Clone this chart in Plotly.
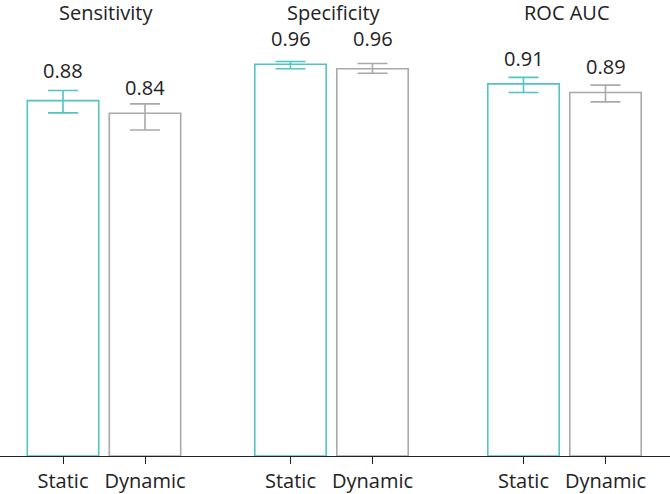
import plotly.graph_objects as go

metrics = ["Sensitivity", "Specificity", "ROC AUC"]
methods = ["Static", "Dynamic"]
values = {
    "Static": [0.871, 0.960, 0.912],
    "Dynamic": [0.840, 0.949, 0.891],
}
err_plus = {
    "Static": [0.025, 0.007, 0.016],
    "Dynamic": [0.023, 0.013, 0.018],
}
err_minus = {
    "Static": [0.030, 0.011, 0.021],
    "Dynamic": [0.041, 0.011, 0.023],
}
labels = {
    "Static": ["0.88", "0.96", "0.91"],
    "Dynamic": ["0.84", "0.96", "0.89"],
}
label_values = {
    "Static": [0.88, 0.96, 0.91],
    "Dynamic": [0.84, 0.96, 0.89],
}
colors = {"Static": "#52c4c4", "Dynamic": "#a9a9a9"}

W, H = 670, 494
FONT = "Open Sans"
FS = 20
TXT = "#222222"

# subplot domains in pixels and x-ranges
dom_px = [(0, 218), (218, 446), (446, 670)]
cat0_px = [63, 290.5, 523.5]
spacing = 82.0

fig = go.Figure()
for i, m in enumerate(metrics):
    xa = "x" if i == 0 else f"x{i+1}"
    ya = "y" if i == 0 else f"y{i+1}"
    for j, meth in enumerate(methods):
        fig.add_trace(go.Bar(
            x=[j], y=[values[meth][i]],
            width=0.871,
            xaxis=xa, yaxis=ya,
            marker=dict(color="rgba(255,255,255,0)",
                        line=dict(color=colors[meth], width=1.6)),
            error_y=dict(type="data", symmetric=False,
                         array=[err_plus[meth][i]],
                         arrayminus=[err_minus[meth][i]],
                         color=colors[meth], thickness=1.6, width=15),
            showlegend=False, hoverinfo="skip",
        ))
        fig.add_annotation(x=j, y=label_values[meth][i], xref=xa, yref=ya,
                           text=labels[meth][i], showarrow=False,
                           yshift=26, yanchor="middle", xanchor="center",
                           font=dict(family=FONT, size=FS, color=TXT))

top_px, base_px = 30, 456
plot_h = base_px - top_px
ymax = plot_h / 408.0

layout = dict(
    width=W, height=H,
    margin=dict(l=0, r=0, t=top_px, b=H - base_px, pad=0, autoexpand=False),
    paper_bgcolor="white", plot_bgcolor="white",
    barmode="overlay",
    font=dict(family=FONT, size=FS, color=TXT),
)
for i, m in enumerate(metrics):
    a, b = dom_px[i]
    r0 = (a - cat0_px[i]) / spacing
    r1 = (b - cat0_px[i]) / spacing
    key = "xaxis" if i == 0 else f"xaxis{i+1}"
    ykey = "yaxis" if i == 0 else f"yaxis{i+1}"
    layout[key] = dict(
        domain=[a / W, b / W], range=[r0, r1],
        tickvals=[0, 1], ticktext=methods,
        showline=True, linecolor="#222222", linewidth=1.2,
        ticks="outside", ticklen=7, tickcolor="#222222", tickwidth=1.2,
        showgrid=False, zeroline=False, fixedrange=True,
        tickfont=dict(family=FONT, size=FS, color=TXT),
        anchor="y" if i == 0 else f"y{i+1}",
    )
    layout[ykey] = dict(range=[0, ymax], visible=False, fixedrange=True,
                        anchor="x" if i == 0 else f"x{i+1}")
    cx = (cat0_px[i] + spacing / 2 + 2) / W
    fig.add_annotation(x=cx, y=(base_px - 12) / plot_h, xref="paper", yref="paper",
                       text=m, showarrow=False, yanchor="middle", xanchor="center",
                       font=dict(family=FONT, size=FS, color=TXT))

fig.update_layout(**layout)
fig.write_html("out.html", config={"displayModeBar": False},
               post_script="document.body.style.margin='0';document.body.style.overflow='hidden';")
